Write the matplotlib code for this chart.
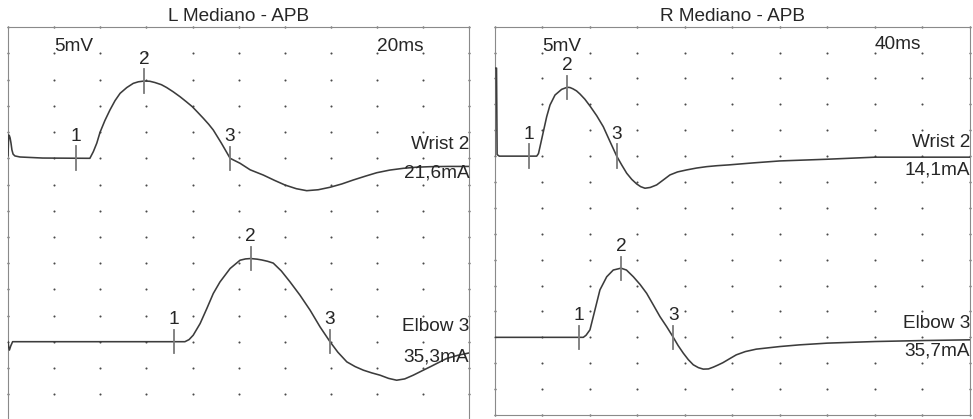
import numpy as np
import matplotlib
matplotlib.use("Agg")
import matplotlib.pyplot as plt

plt.rcParams["font.family"] = ["Liberation Sans", "DejaVu Sans"]

# ---- recorded traces: time (ms) and amplitude (mV, relative to baseline) ----
left_wrist_t = [0.0, 0.03, 0.06, 0.09, 0.13, 0.17, 0.22, 0.30, 0.52, 1.5, 3.40,
                3.55, 3.70, 3.85, 3.99, 4.20, 4.42, 4.64, 4.86, 5.15, 5.43, 5.65,
                5.91, 6.15, 6.37, 6.65, 6.88, 7.16, 7.46, 7.73, 7.99, 8.23, 8.47,
                8.70, 8.90, 9.25, 9.63, 10.06, 10.50, 11.07, 11.55, 12.01, 12.50,
                12.95, 13.45, 13.96, 14.47, 14.97, 15.50, 15.99, 16.55, 17.14,
                17.70, 18.30, 19.10, 20.0]
left_wrist_mv = [0.5, 4.45, 4.3, 3.9, 2.9, 1.6, 0.8, 0.45, 0.25, 0.05, 0.0,
                 0.0, 1.27, 2.9, 4.96, 7.2, 9.22, 11.0, 12.4, 13.5, 14.3, 14.6,
                 14.75, 14.7, 14.46, 14.05, 13.5, 12.7, 11.75, 10.8, 9.85, 8.75,
                 7.63, 6.5, 5.4, 2.9, 0.0, -0.95, -2.2, -3.2, -4.2, -5.1, -5.8,
                 -6.18, -6.0, -5.53, -4.9, -4.14, -3.4, -2.75, -2.25, -1.91,
                 -1.7, -1.6, -1.55, -1.55]

left_elbow_t = [0.0, 0.03, 0.06, 0.12, 0.2, 7.67, 7.85, 8.03, 8.33, 8.62, 8.90,
                9.19, 9.63, 10.06, 10.30, 10.52, 10.80, 11.0, 11.25, 11.50,
                11.85, 12.23, 12.66, 13.1, 13.53, 13.96, 14.3, 14.69, 15.05,
                15.41, 15.77, 16.13, 16.50, 16.85, 17.20, 17.57, 17.93, 18.30,
                18.66, 19.02, 19.50, 20.0]
left_elbow_mv = [0.0, -1.0, -1.6, -0.8, 0.0, 0.0, 0.4, 1.24, 3.47, 6.33, 9.2,
                 11.4, 13.97, 15.55, 15.8, 15.87, 15.75, 15.6, 15.35, 15.0,
                 13.5, 11.4, 8.87, 6.0, 2.82, 0.0, -2.0, -3.85, -4.75,
                 -5.44, -5.95, -6.39, -7.0, -7.35, -7.1, -6.39, -5.6, -4.8,
                 -4.0, -3.2, -2.6, -2.14]

right_wrist_t = [0.0, 0.01, 0.17, 0.22, 0.4, 3.55, 3.70, 3.83, 4.11, 4.39, 4.67,
                 5.09, 5.65, 6.12, 6.35, 6.60, 6.90, 7.19, 7.60, 8.03, 8.60,
                 9.15, 9.70, 10.28, 10.70, 11.12, 11.55, 11.96, 12.30, 12.66,
                 13.10, 13.64, 14.20, 14.76, 15.40, 16.17, 17.00, 17.85, 18.70,
                 19.67, 21.80, 23.99, 27.97, 32.0, 36.04, 40.0]
right_wrist_mv = [0.0, 17.0, 17.0, 0.3, 0.0, 0.0, 0.5, 1.83, 4.73, 7.62, 9.88,
                  11.8, 12.9, 13.3, 13.25, 13.0, 12.6, 12.0, 11.0, 9.69, 7.8,
                  5.69, 2.9, 0.0, -1.7, -3.3, -4.5, -5.37, -5.9, -6.2,
                  -6.05, -5.56, -4.6, -3.63, -3.05, -2.66, -2.3, -2.03, -1.85,
                  -1.7, -1.3, -0.93, -0.6, -0.2, -0.2, -0.2]

right_elbow_t = [0.0, 7.47, 7.70, 8.03, 8.45, 8.87, 9.44, 9.99, 10.64, 11.1,
                 11.68, 12.25, 12.8, 13.35, 13.92, 14.50, 15.04, 15.45, 15.88,
                 16.30, 16.72, 17.15, 17.56, 18.0, 18.41, 18.80, 19.21, 19.80,
                 20.34, 21.10, 22.02, 23.99, 25.67, 27.99, 32.0, 36.04, 40.0]
right_elbow_mv = [0.0, 0.0, 0.4, 1.45, 5.3, 9.17, 11.7, 13.0, 13.36, 13.0,
                  11.7, 10.2, 8.5, 6.3, 4.0, 2.0, 0.0, -1.6, -3.05,
                  -4.3, -5.3, -5.85, -6.14, -6.1, -5.75, -5.35, -4.9, -4.1,
                  -3.38, -2.75, -2.28, -1.78, -1.45, -1.12, -0.81, -0.62, -0.48]

# cursor latencies (ms): onset, peak, end of negative phase
left_wrist_markers = [2.95, 5.91, 9.63]
left_elbow_markers = [7.20, 10.52, 13.96]
right_wrist_markers = [2.90, 6.12, 10.28]
right_elbow_markers = [7.11, 10.64, 15.04]
marker_labels = ["1", "2", "3"]

panel_titles = ["L Mediano - APB", "R Mediano - APB"]
sweeps_ms = [20, 40]
gain_label = "5mV"
sweep_labels = ["20ms", "40ms"]
site_labels = ["Wrist 2", "Elbow 3"]
left_currents = ["21,6mA", "35,3mA"]
right_currents = ["14,1mA", "35,7mA"]

# ---- display settings ----
MV_PER_DIV = 5
N_XDIV, N_YDIV = 10, 15
BASELINE_ROWS = [5, 12]
TRACE_COLOR = "#3c3c3c"
CURSOR_COLOR = "#7a7a7a"
TEXT_COLOR = "#262626"
FS = 13.7

W, H = 973, 419
fig = plt.figure(figsize=(W / 100, H / 100), dpi=100)
ax_l = fig.add_axes([8 / W, (H - 420.3) / H, 461.3 / W, 393.0 / H])
ax_r = fig.add_axes([494.5 / W, (H - 415.0) / H, 475.5 / W, 388.3 / H])


def setup_panel(ax, sweep):
    ax.set_xlim(0, sweep)
    ax.set_ylim(-N_YDIV * MV_PER_DIV, 0)
    ax.set_xticks([])
    ax.set_yticks([])
    for s in ax.spines.values():
        s.set_color("#8a8a8a")
        s.set_linewidth(0.8)
    gx, gy = np.meshgrid(np.linspace(0, sweep, N_XDIV + 1),
                         -MV_PER_DIV * np.arange(N_YDIV + 1))
    ax.plot(gx.ravel(), gy.ravel(), "o", ms=1.5, color="#4a4a4a",
            mec="none", clip_on=False, zorder=1)


def draw_trace(ax, t, mv, row, markers):
    base = -row * MV_PER_DIV
    t = np.asarray(t)
    y = np.asarray(mv) + base
    ax.plot(t, y, color=TRACE_COLOR, lw=1.15, zorder=3,
            solid_joinstyle="round")
    for lab, tm in zip(marker_labels, markers):
        ym = np.interp(tm, t, y)
        ax.plot([tm, tm], [ym - 2.25, ym + 2.25], color=CURSOR_COLOR,
                lw=1.3, zorder=4)
        ax.text(tm, ym + 4.2, lab, ha="center", va="center", fontsize=FS,
                color=TEXT_COLOR, zorder=5)


def annotate(ax, sweep, gain_x, sweep_text, currents, ys):
    ax.text(gain_x, ys[0], gain_label, ha="left", va="center", fontsize=FS,
            color=TEXT_COLOR)
    ax.text(0.8 * sweep, ys[1], sweep_text, ha="left", va="center",
            fontsize=FS, color=TEXT_COLOR)
    for i, (site, cur) in enumerate(zip(site_labels, currents)):
        ax.text(sweep, ys[2 + 2 * i], site, ha="right", va="center",
                fontsize=FS, color=TEXT_COLOR, zorder=6)
        ax.text(sweep, ys[3 + 2 * i], cur, ha="right", va="center",
                fontsize=FS, color=TEXT_COLOR, zorder=6)


setup_panel(ax_l, sweeps_ms[0])
setup_panel(ax_r, sweeps_ms[1])

draw_trace(ax_l, left_wrist_t, left_wrist_mv, BASELINE_ROWS[0], left_wrist_markers)
draw_trace(ax_l, left_elbow_t, left_elbow_mv, BASELINE_ROWS[1], left_elbow_markers)
draw_trace(ax_r, right_wrist_t, right_wrist_mv, BASELINE_ROWS[0], right_wrist_markers)
draw_trace(ax_r, right_elbow_t, right_elbow_mv, BASELINE_ROWS[1], right_elbow_markers)

annotate(ax_l, sweeps_ms[0], 2.0, sweep_labels[0], left_currents,
         [-3.6, -3.7, -22.3, -27.9, -57.1, -62.9])
annotate(ax_r, sweeps_ms[1], 4.0, sweep_labels[1], right_currents,
         [-3.9, -3.5, -22.4, -27.7, -57.4, -62.7])

fig.text(238.4 / W, (H - 20.7) / H, panel_titles[0], ha="center",
         va="baseline", fontsize=FS, color=TEXT_COLOR)
fig.text(732.3 / W, (H - 20.7) / H, panel_titles[1], ha="center",
         va="baseline", fontsize=FS, color=TEXT_COLOR)

fig.savefig("out.png", dpi=100, facecolor="white")
